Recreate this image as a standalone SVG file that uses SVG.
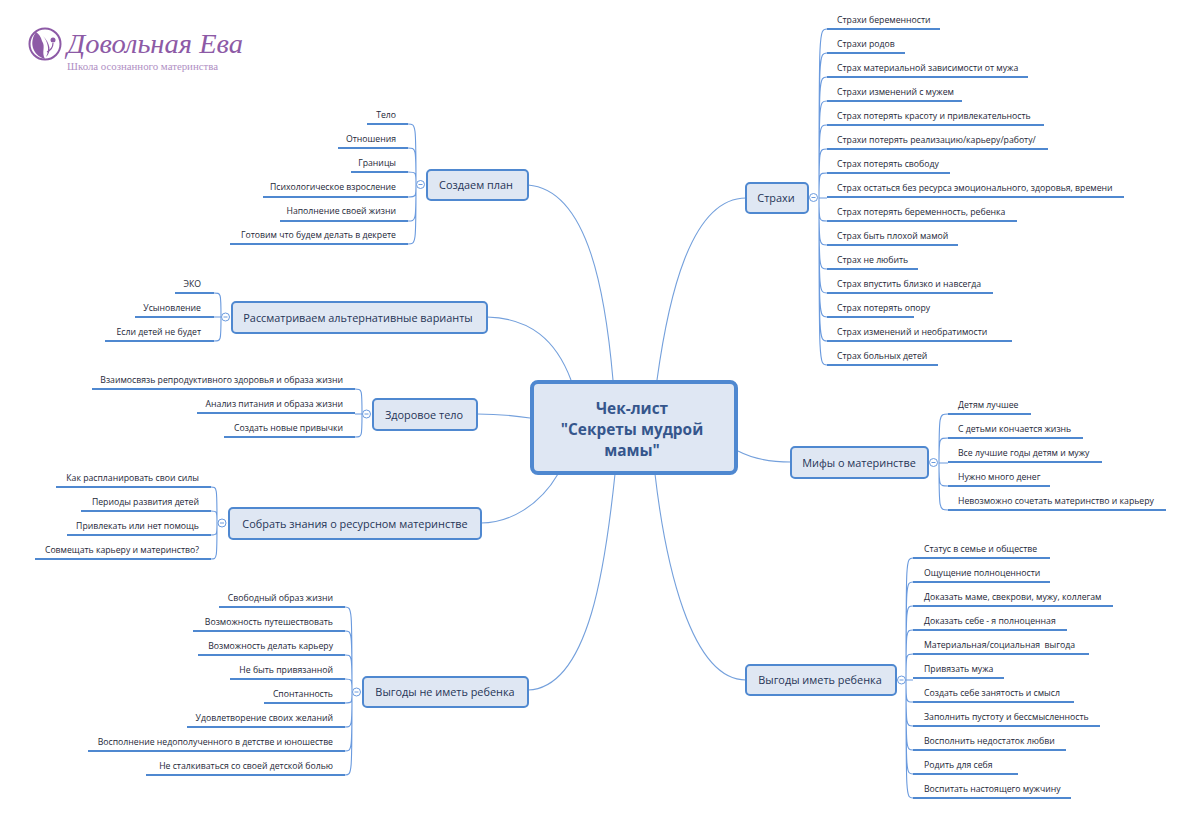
<svg xmlns="http://www.w3.org/2000/svg" width="1199" height="825" viewBox="0 0 1199 825">
<style>
.bg{fill:#fff}
.c{fill:none;stroke:#74a0dc;stroke-width:1.1}
.b{fill:none;stroke:#6a9ade;stroke-width:1.1}
.n{fill:#dfe7f3;stroke:#4f88d0;stroke-width:2}
.u{stroke:#4f88d0;stroke-width:2}
.o{fill:#fff;stroke:#6a9ade;stroke-width:1}
.m{stroke:#6a9ade;stroke-width:1}
text{font-family:"Open Sans","Liberation Sans",sans-serif}
.l{font-size:8.7px;fill:#1d2738;transform:translateY(-1px)}
.r{text-anchor:end}
.t{font-size:10.9px;fill:#1f3557;text-anchor:middle}
.h{font-size:15.4px;font-weight:700;fill:#35568c;text-anchor:middle}
</style>
<rect class="bg" width="1199" height="825"/>
<g id="logo">
<circle cx="45" cy="44" r="15.500" fill="none" stroke="#8d5aa6" stroke-width="2"/>
<path d="M36 32C29 42 32 55 45 59C41 52 46 47 42 41C41 37 39 34 36 32Z" fill="#8d5aa6"/>
<path d="M43 36C48 42 50 50 46 57C52 52 50 43 43 36Z" fill="#8d5aa6"/>
<circle cx="53" cy="40" r="2.500" fill="#8d5aa6"/>
<path d="M53 43C53 48 51 50 47 52" fill="none" stroke="#8d5aa6" stroke-width="1.200"/>
<text x="67" y="53" font-size="27" font-style="italic" textLength="176" lengthAdjust="spacingAndGlyphs" fill="#8d5aa6" style="font-family:'Liberation Serif','DejaVu Serif',serif">Довольная Ева</text>
<text x="67" y="70" font-size="10" textLength="151" lengthAdjust="spacingAndGlyphs" fill="#b08fc4" style="font-family:'Liberation Serif','DejaVu Serif',serif">Школа осознанного материнства</text>
</g>
<g id="connectors">
<path class="c" d="M613 380C606 300 590 190 528 185"/>
<path class="c" d="M571 380C556 340 530 318 487 317"/>
<path class="c" d="M530 418C510 415 495 414 477 414"/>
<path class="c" d="M558 474C540 505 510 523 481 523"/>
<path class="c" d="M615 474C606 560 590 688 528 690"/>
<path class="c" d="M657 380C668 300 690 198 746 198"/>
<path class="c" d="M738 451C755 460 772 462 791 462"/>
<path class="c" d="M655 474C665 560 690 680 746 680"/>
<g id="branches-plan">
<path class="b" d="M416 184C416 124 416 124 408 124M416 184C416 148 416 148 408 148M416 184C416 172 416 172 408 172M416 184C416 197 416 197 408 197M416 184C416 221 416 221 408 221M416 184C416 244 416 244 408 244"/>
</g>
<g id="branches-alt">
<path class="b" d="M221 317C221 293 221 293 214 293M221 317H214M221 317C221 341 221 341 214 341"/>
</g>
<g id="branches-health">
<path class="b" d="M362 414C362 389 362 389 355 389M362 414H355M362 414C362 437 362 437 355 437"/>
</g>
<g id="branches-know">
<path class="b" d="M217 523C217 487 217 487 211 487M217 523C217 511 217 511 211 511M217 523C217 535 217 535 211 535M217 523C217 559 217 559 211 559"/>
</g>
<g id="branches-nochild">
<path class="b" d="M352 692C352 607 352 607 345 607M352 692C352 631 352 631 345 631M352 692C352 655 352 655 345 655M352 692C352 679 352 679 345 679M352 692C352 703 352 703 345 703M352 692C352 727 352 727 345 727M352 692C352 751 352 751 345 751M352 692C352 775 352 775 345 775"/>
</g>
<g id="branches-fears">
<path class="b" d="M819 198C819 29 819 29 827 29M819 198C819 53 819 53 827 53M819 198C819 77 819 77 827 77M819 198C819 101 819 101 827 101M819 198C819 125 819 125 827 125M819 198C819 149 819 149 827 149M819 198C819 173 819 173 827 173M819 198H827M819 198C819 221 819 221 827 221M819 198C819 245 819 245 827 245M819 198C819 269 819 269 827 269M819 198C819 293 819 293 827 293M819 198C819 317 819 317 827 317M819 198C819 341 819 341 827 341M819 198C819 365 819 365 827 365"/>
</g>
<g id="branches-myths">
<path class="b" d="M939 463C939 414 939 414 948 414M939 463C939 438 939 438 948 438M939 463H948M939 463C939 486 939 486 948 486M939 463C939 510 939 510 948 510"/>
</g>
<g id="branches-benefit">
<path class="b" d="M906 680C906 558 906 558 913 558M906 680C906 582 906 582 913 582M906 680C906 606 906 606 913 606M906 680C906 630 906 630 913 630M906 680C906 654 906 654 913 654M906 680H913M906 680C906 702 906 702 913 702M906 680C906 726 906 726 913 726M906 680C906 750 906 750 913 750M906 680C906 774 906 774 913 774M906 680C906 798 906 798 913 798"/>
</g>
</g>
<g id="center"><rect x="532" y="382" width="204" height="91" rx="6" fill="#dfe7f3" stroke="#4f88d0" stroke-width="4"/><text class="h" x="632" y="414">Чек-лист</text><text class="h" x="632" y="435">"Секреты мудрой</text><text class="h" x="632" y="456">мамы"</text></g>
<g id="plan"><rect class="n" x="427" y="170" width="101" height="30" rx="4"/><text class="t" x="476" y="189">Создаем план</text><circle class="o" cx="420.500" cy="184.500" r="4"/><path class="m" d="M418.500 184.500h4"/></g>
<g id="alt"><rect class="n" x="232" y="302" width="255" height="31" rx="4"/><text class="t" x="358" y="322">Рассматриваем альтернативные варианты</text><circle class="o" cx="225.500" cy="317" r="4"/><path class="m" d="M223.500 317h4"/></g>
<g id="health"><rect class="n" x="373" y="399" width="104" height="31" rx="4"/><text class="t" x="424" y="419">Здоровое тело</text><circle class="o" cx="366.500" cy="414" r="4"/><path class="m" d="M364.500 414h4"/></g>
<g id="know"><rect class="n" x="229" y="508" width="252" height="31" rx="4"/><text class="t" x="355" y="528">Собрать знания о ресурсном материнстве</text><circle class="o" cx="222" cy="523" r="4"/><path class="m" d="M220 523h4"/></g>
<g id="nochild"><rect class="n" x="363" y="677" width="165" height="30" rx="4"/><text class="t" x="445" y="696">Выгоды не иметь ребенка</text><circle class="o" cx="356.500" cy="692" r="4"/><path class="m" d="M354.500 692h4"/></g>
<g id="fears"><rect class="n" x="746" y="183" width="62" height="30" rx="4"/><text class="t" x="776" y="202">Страхи</text><circle class="o" cx="813.500" cy="197.500" r="4"/><path class="m" d="M811.500 197.500h4"/></g>
<g id="myths"><rect class="n" x="791" y="447" width="137" height="31" rx="4"/><text class="t" x="859" y="467">Мифы о материнстве</text><circle class="o" cx="933.500" cy="462.500" r="4"/><path class="m" d="M931.500 462.500h4"/></g>
<g id="benefit"><rect class="n" x="746" y="665" width="150" height="30" rx="4"/><text class="t" x="820" y="684">Выгоды иметь ребенка</text><circle class="o" cx="901.500" cy="680" r="4"/><path class="m" d="M899.500 680h4"/></g>
<g id="plan-leaves">
<g id="p1"><line class="u" x1="367" y1="124" x2="408" y2="124"/><text class="l r" x="396" y="118.500">Тело</text></g>
<g id="p2"><line class="u" x1="338" y1="148" x2="408" y2="148"/><text class="l r" x="396" y="142.500">Отношения</text></g>
<g id="p3"><line class="u" x1="351" y1="172" x2="408" y2="172"/><text class="l r" x="396" y="166.500">Границы</text></g>
<g id="p4"><line class="u" x1="263" y1="197" x2="408" y2="197"/><text class="l r" x="396" y="190.500">Психологическое взросление</text></g>
<g id="p5"><line class="u" x1="280" y1="221" x2="408" y2="221"/><text class="l r" x="396" y="214.500">Наполнение своей жизни</text></g>
<g id="p6"><line class="u" x1="230" y1="244" x2="408" y2="244"/><text class="l r" x="396" y="238.500">Готовим что будем делать в декрете</text></g>
</g>
<g id="alt-leaves">
<g id="a1"><line class="u" x1="175" y1="293" x2="214" y2="293"/><text class="l r" x="201" y="287.500">ЭКО</text></g>
<g id="a2"><line class="u" x1="135" y1="317" x2="214" y2="317"/><text class="l r" x="201" y="311.500">Усыновление</text></g>
<g id="a3"><line class="u" x1="105" y1="341" x2="214" y2="341"/><text class="l r" x="201" y="335.500">Если детей не будет</text></g>
</g>
<g id="health-leaves">
<g id="h1"><line class="u" x1="92" y1="389" x2="355" y2="389"/><text class="l r" x="343" y="383.500">Взаимосвязь репродуктивного здоровья и образа жизни</text></g>
<g id="h2"><line class="u" x1="197" y1="413" x2="355" y2="413"/><text class="l r" x="343" y="407.500">Анализ питания и образа жизни</text></g>
<g id="h3"><line class="u" x1="224" y1="437" x2="355" y2="437"/><text class="l r" x="343" y="431.500">Создать новые привычки</text></g>
</g>
<g id="know-leaves">
<g id="k1"><line class="u" x1="56" y1="487" x2="211" y2="487"/><text class="l r" x="199" y="481.500">Как распланировать свои силы</text></g>
<g id="k2"><line class="u" x1="81" y1="511" x2="211" y2="511"/><text class="l r" x="199" y="505.500">Периоды развития детей</text></g>
<g id="k3"><line class="u" x1="67" y1="535" x2="211" y2="535"/><text class="l r" x="199" y="529.500">Привлекать или нет помощь</text></g>
<g id="k4"><line class="u" x1="35" y1="559" x2="211" y2="559"/><text class="l r" x="199" y="553.500">Совмещать карьеру и материнство?</text></g>
</g>
<g id="nochild-leaves">
<g id="n1"><line class="u" x1="219" y1="607" x2="345" y2="607"/><text class="l r" x="333" y="601.500">Свободный образ жизни</text></g>
<g id="n2"><line class="u" x1="193" y1="631" x2="345" y2="631"/><text class="l r" x="333" y="625.500">Возможность путешествовать</text></g>
<g id="n3"><line class="u" x1="198" y1="655" x2="345" y2="655"/><text class="l r" x="333" y="649.500">Возможность делать карьеру</text></g>
<g id="n4"><line class="u" x1="230" y1="679" x2="345" y2="679"/><text class="l r" x="333" y="673.500">Не быть привязанной</text></g>
<g id="n5"><line class="u" x1="264" y1="703" x2="345" y2="703"/><text class="l r" x="333" y="697.500">Спонтанность</text></g>
<g id="n6"><line class="u" x1="187" y1="727" x2="345" y2="727"/><text class="l r" x="333" y="721.500">Удовлетворение своих желаний</text></g>
<g id="n7"><line class="u" x1="88" y1="751" x2="345" y2="751"/><text class="l r" x="333" y="745.500">Восполнение недополученного в детстве и юношестве</text></g>
<g id="n8"><line class="u" x1="146" y1="775" x2="345" y2="775"/><text class="l r" x="333" y="769.500">Не сталкиваться со своей детской болью</text></g>
</g>
<g id="fears-leaves">
<g id="f1"><line class="u" x1="827" y1="29" x2="940" y2="29"/><text class="l" x="837" y="23.500">Страхи беременности</text></g>
<g id="f2"><line class="u" x1="827" y1="53" x2="905" y2="53"/><text class="l" x="837" y="47.500">Страхи родов</text></g>
<g id="f3"><line class="u" x1="827" y1="77" x2="1028" y2="77"/><text class="l" x="837" y="71.500">Страх материальной зависимости от мужа</text></g>
<g id="f4"><line class="u" x1="827" y1="101" x2="962" y2="101"/><text class="l" x="837" y="95.500">Страхи изменений с мужем</text></g>
<g id="f5"><line class="u" x1="827" y1="125" x2="1044" y2="125"/><text class="l" x="837" y="119.500">Страх потерять красоту и привлекательность</text></g>
<g id="f6"><line class="u" x1="827" y1="149" x2="1048" y2="149"/><text class="l" x="837" y="143.500">Страхи потерять реализацию/карьеру/работу/</text></g>
<g id="f7"><line class="u" x1="827" y1="173" x2="950" y2="173"/><text class="l" x="837" y="167.500">Страх потерять свободу</text></g>
<g id="f8"><line class="u" x1="827" y1="197" x2="1124" y2="197"/><text class="l" x="837" y="191.500">Страх остаться без ресурса эмоционального, здоровья, времени</text></g>
<g id="f9"><line class="u" x1="827" y1="221" x2="1017" y2="221"/><text class="l" x="837" y="215.500">Страх потерять беременность, ребенка</text></g>
<g id="f10"><line class="u" x1="827" y1="245" x2="958" y2="245"/><text class="l" x="837" y="239.500">Страх быть плохой мамой</text></g>
<g id="f11"><line class="u" x1="827" y1="269" x2="918" y2="269"/><text class="l" x="837" y="263.500">Страх не любить</text></g>
<g id="f12"><line class="u" x1="827" y1="293" x2="993" y2="293"/><text class="l" x="837" y="287.500">Страх впустить близко и навсегда</text></g>
<g id="f13"><line class="u" x1="827" y1="317" x2="914" y2="317"/><text class="l" x="837" y="311.500">Страх потерять опору</text></g>
<g id="f14"><line class="u" x1="827" y1="341" x2="1012" y2="341"/><text class="l" x="837" y="335.500">Страх изменений и необратимости</text></g>
<g id="f15"><line class="u" x1="827" y1="365" x2="938" y2="365"/><text class="l" x="837" y="359.500">Страх больных детей</text></g>
</g>
<g id="myths-leaves">
<g id="m1"><line class="u" x1="948" y1="414" x2="1031" y2="414"/><text class="l" x="958" y="408.500">Детям лучшее</text></g>
<g id="m2"><line class="u" x1="948" y1="438" x2="1083" y2="438"/><text class="l" x="958" y="432.500">С детьми кончается жизнь</text></g>
<g id="m3"><line class="u" x1="948" y1="462" x2="1102" y2="462"/><text class="l" x="958" y="456.500">Все лучшие годы детям и мужу</text></g>
<g id="m4"><line class="u" x1="948" y1="486" x2="1050" y2="486"/><text class="l" x="958" y="480.500">Нужно много денег</text></g>
<g id="m5"><line class="u" x1="948" y1="510" x2="1166" y2="510"/><text class="l" x="958" y="504.500">Невозможно сочетать материнство и карьеру</text></g>
</g>
<g id="benefit-leaves">
<g id="b1"><line class="u" x1="913" y1="558" x2="1050" y2="558"/><text class="l" x="924" y="552.500">Статус в семье и обществе</text></g>
<g id="b2"><line class="u" x1="913" y1="582" x2="1050" y2="582"/><text class="l" x="924" y="576.500">Ощущение полноценности</text></g>
<g id="b3"><line class="u" x1="913" y1="606" x2="1113" y2="606"/><text class="l" x="924" y="600.500">Доказать маме, свекрови, мужу, коллегам</text></g>
<g id="b4"><line class="u" x1="913" y1="630" x2="1067" y2="630"/><text class="l" x="924" y="624.500">Доказать себе - я полноценная</text></g>
<g id="b5"><line class="u" x1="913" y1="654" x2="1089" y2="654"/><text class="l" x="924" y="648.500" xml:space="preserve">Материальная/социальная  выгода</text></g>
<g id="b6"><line class="u" x1="913" y1="678" x2="1004" y2="678"/><text class="l" x="924" y="672.500">Привязать мужа</text></g>
<g id="b7"><line class="u" x1="913" y1="702" x2="1074" y2="702"/><text class="l" x="924" y="696.500">Создать себе занятость и смысл</text></g>
<g id="b8"><line class="u" x1="913" y1="726" x2="1100" y2="726"/><text class="l" x="924" y="720.500">Заполнить пустоту и бессмысленность</text></g>
<g id="b9"><line class="u" x1="913" y1="750" x2="1066" y2="750"/><text class="l" x="924" y="744.500">Восполнить недостаток любви</text></g>
<g id="b10"><line class="u" x1="913" y1="774" x2="1018" y2="774"/><text class="l" x="924" y="768.500">Родить для себя</text></g>
<g id="b11"><line class="u" x1="913" y1="798" x2="1071" y2="798"/><text class="l" x="924" y="792.500">Воспитать настоящего мужчину</text></g>
</g>
</svg>
